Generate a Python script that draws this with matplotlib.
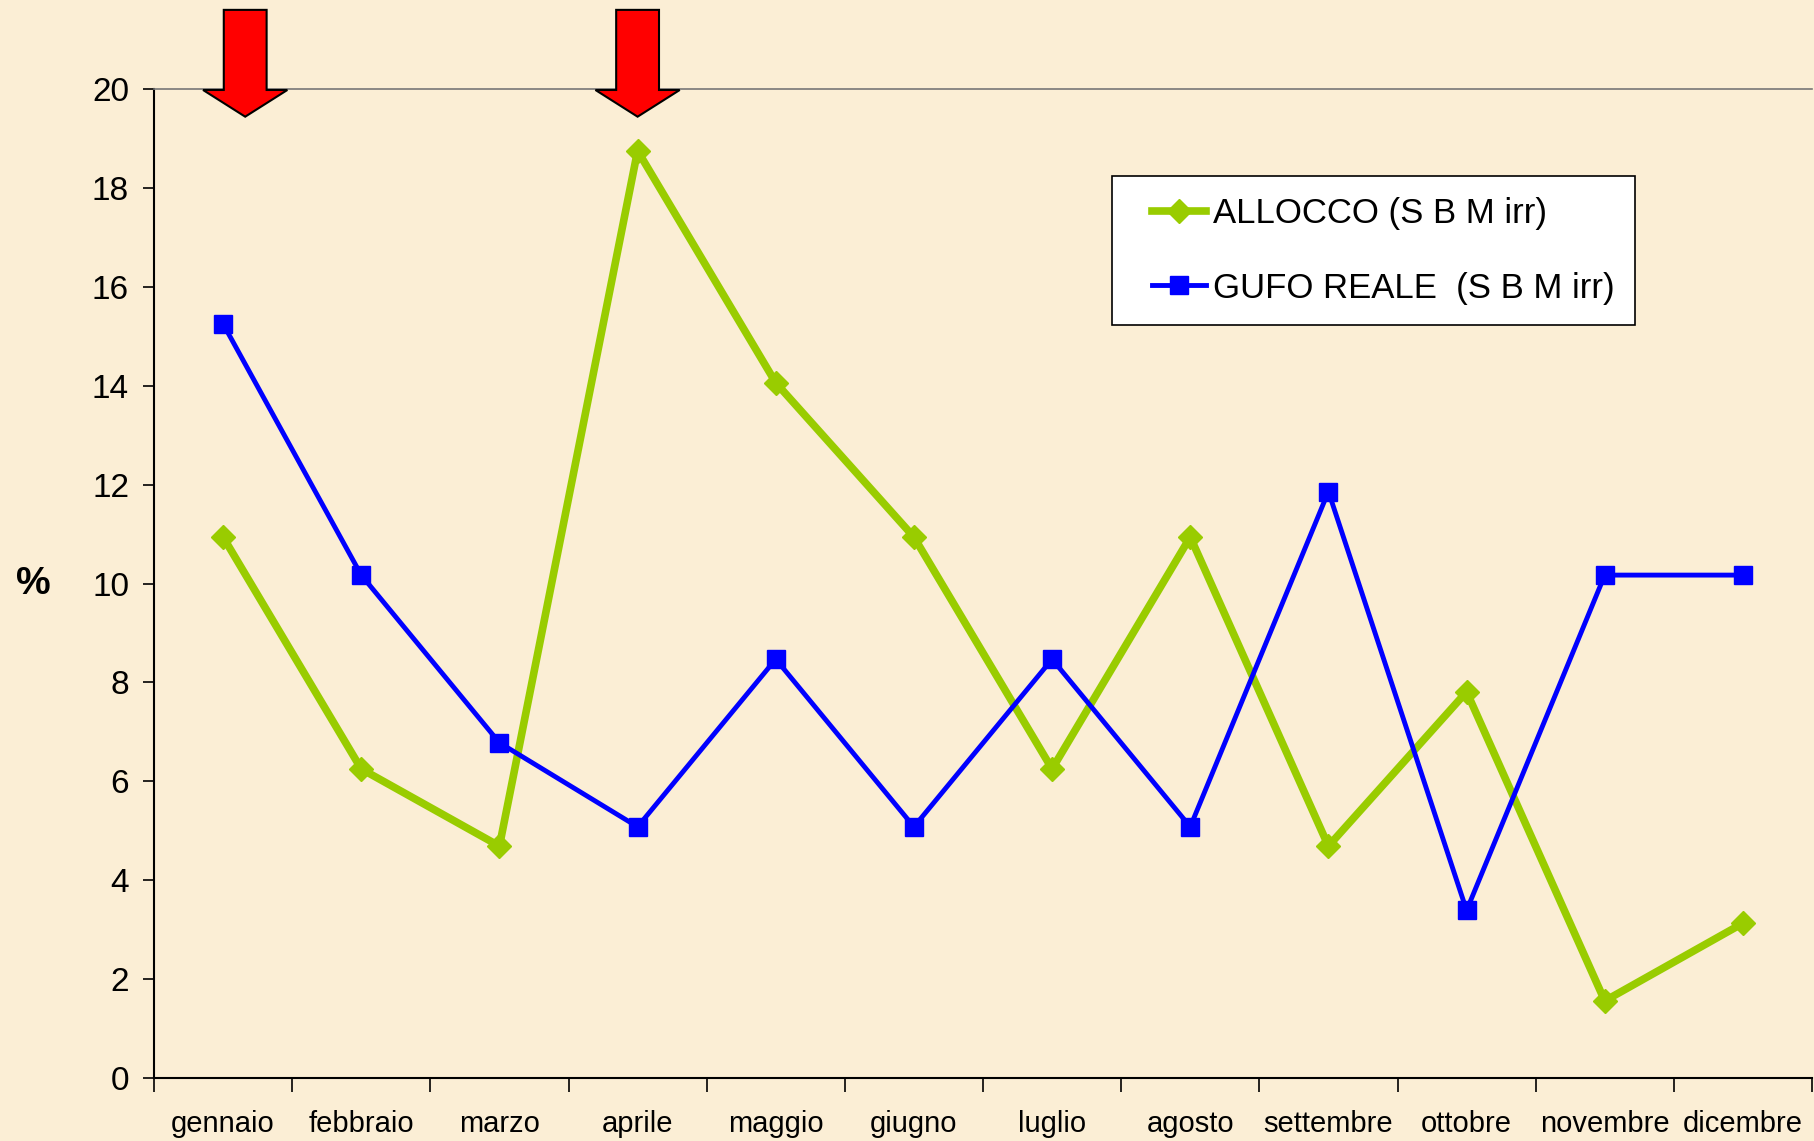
import matplotlib
matplotlib.use("Agg")
import matplotlib.pyplot as plt
import matplotlib.transforms as mtransforms
from matplotlib.patches import Polygon
from matplotlib.legend_handler import HandlerLine2D
import numpy as np

plt.rcParams['font.family'] = ['Liberation Sans', 'DejaVu Sans']

months = ['gennaio', 'febbraio', 'marzo', 'aprile', 'maggio', 'giugno',
          'luglio', 'agosto', 'settembre', 'ottobre', 'novembre', 'dicembre']
allocco = [10.94, 6.25, 4.69, 18.75, 14.06, 10.94, 6.25, 10.94, 4.69, 7.81, 1.56, 3.13]
gufo_reale = [15.25, 10.17, 6.78, 5.08, 8.47, 5.08, 8.47, 5.08, 11.86, 3.39, 10.17, 10.17]
series_names = ['ALLOCCO (S B M irr)', 'GUFO REALE  (S B M irr)']
y_ticks = [0, 2, 4, 6, 8, 10, 12, 14, 16, 18, 20]
arrow_months = ['gennaio', 'aprile']
arrow_offsets = [0.16, 0.0]

bg = '#FBEED5'
fig = plt.figure(figsize=(18.14, 11.41), dpi=100, facecolor=bg)
ax = fig.add_axes([0.0849, 0.0552, 0.9140, 0.8668])
ax.set_facecolor('none')

x = np.arange(len(months))
l1, = ax.plot(x, allocco, color='#99CC00', lw=5.5, marker='D', ms=12,
              markeredgecolor='#99CC00', label=series_names[0], zorder=3)
l2, = ax.plot(x, gufo_reale, color='#0000FF', lw=3.5, marker='s', ms=13,
              markeredgecolor='#0000FF', label=series_names[1], zorder=4)

ax.set_xlim(-0.5, len(months) - 0.5)
ax.set_ylim(0, 20)
ax.set_yticks(y_ticks)
ax.set_yticklabels([str(v) for v in y_ticks], fontsize=24)
ax.tick_params(axis='y', direction='out', length=8, width=1.2, pad=10)

ax.set_xticks(x)
ax.set_xticklabels(months, fontsize=21,
                   family=['Liberation Sans Narrow', 'Liberation Sans', 'DejaVu Sans'])
ax.tick_params(axis='x', which='major', length=0, pad=23)
ax.set_xticks(np.arange(-0.5, len(months) + 0.5, 1), minor=True)
ax.tick_params(axis='x', which='minor', direction='out', length=10, width=1.2)

for s in ['left', 'bottom']:
    ax.spines[s].set_linewidth(1.5)
    ax.spines[s].set_color('black')
ax.spines['top'].set_color('#777777')
ax.spines['top'].set_linewidth(1.2)
ax.spines['right'].set_visible(False)

ax.set_ylabel('%', fontsize=28, fontweight='bold', rotation=0, labelpad=42, va='center')

hmap = {l1: HandlerLine2D(xpad=0.55), l2: HandlerLine2D(xpad=0.55)}
leg = ax.legend(handles=[l1, l2], loc='upper left', bbox_to_anchor=(0.578, 0.912),
                fontsize=25, frameon=True, fancybox=False, edgecolor='black',
                framealpha=1, facecolor='white', handlelength=2.1, handletextpad=0.2,
                labelspacing=1.2, borderpad=0.6, borderaxespad=0, handler_map=hmap)
leg.get_frame().set_linewidth(1.2)

# red arrows above the plot (x in data units, y in axes fraction)
trans = mtransforms.blended_transform_factory(ax.transData, ax.transAxes)
shaft_hw, head_hw = 0.155, 0.305
y_top, y_base, y_tip = 1.080, 0.999, 0.972
for m, off in zip(arrow_months, arrow_offsets):
    cx = months.index(m) + off
    pts = [(cx - shaft_hw, y_top), (cx + shaft_hw, y_top), (cx + shaft_hw, y_base),
           (cx + head_hw, y_base), (cx, y_tip), (cx - head_hw, y_base),
           (cx - shaft_hw, y_base)]
    ax.add_patch(Polygon(pts, closed=True, transform=trans, facecolor='#FF0000',
                         edgecolor='black', lw=1.5, clip_on=False, zorder=6))

fig.savefig('out.png', dpi=100, facecolor=bg)
